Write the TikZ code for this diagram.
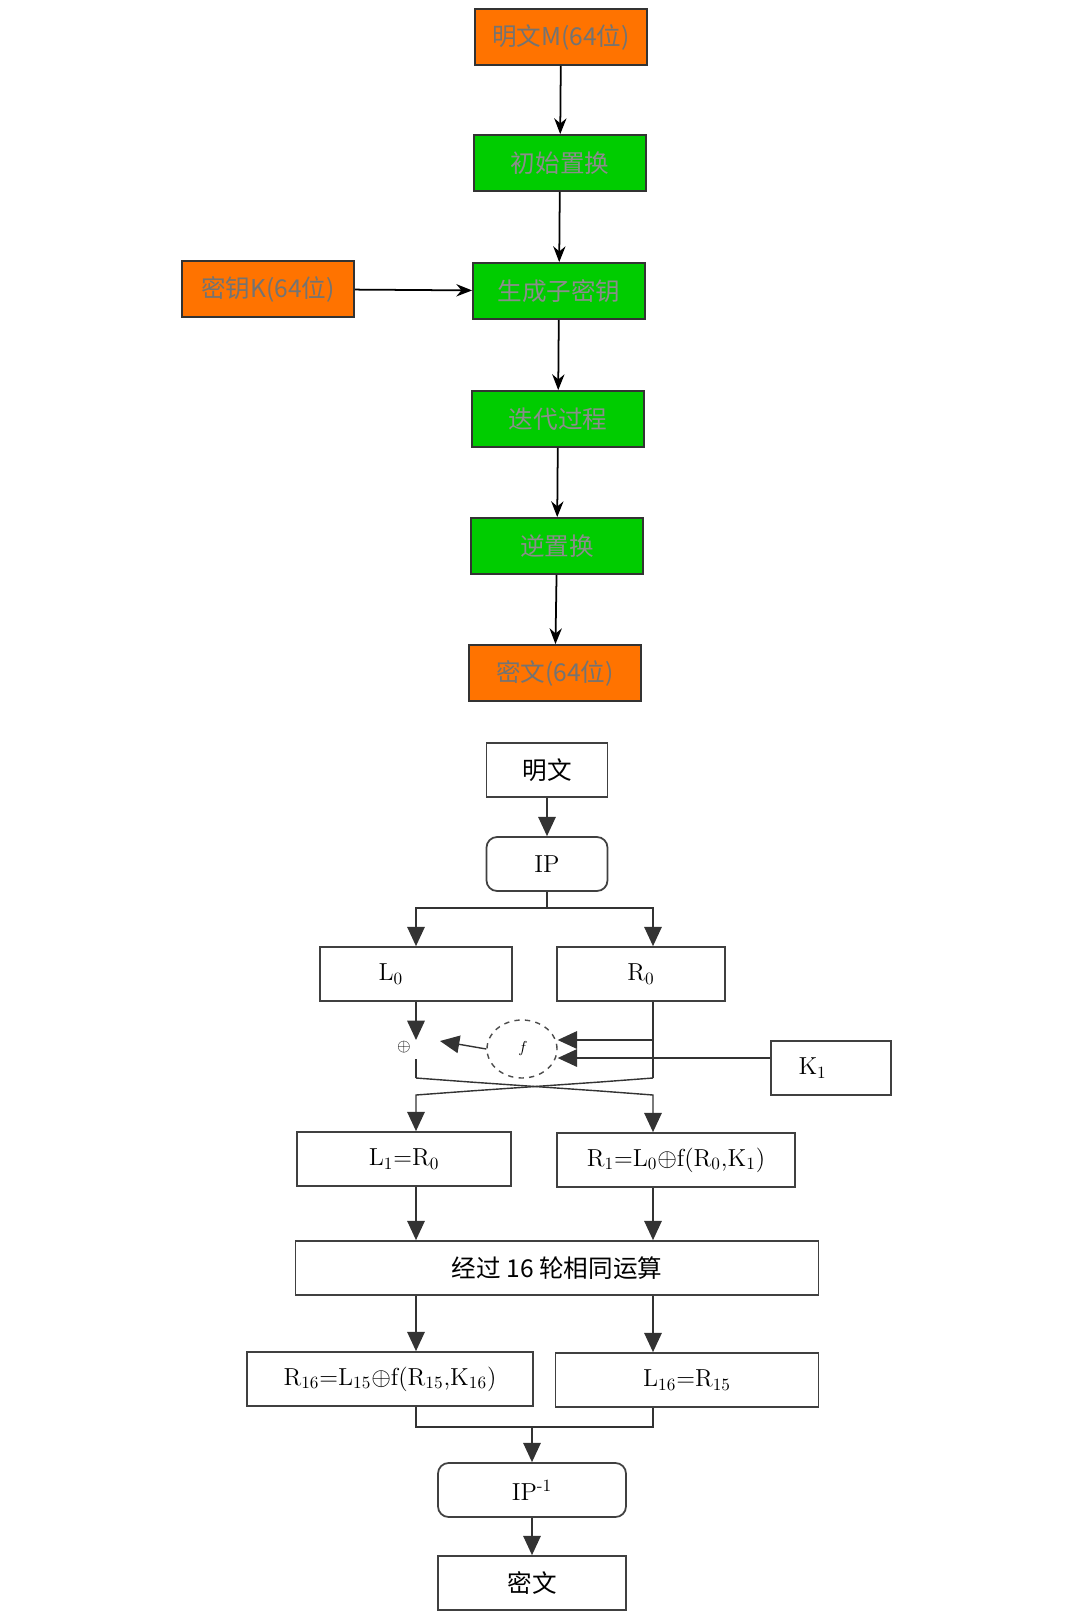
\documentclass[tikz,border=0pt]{standalone}
\usepackage{fontspec}
\newfontfamily\cjk{Noto Sans CJK SC}
\usetikzlibrary{arrows.meta,shapes.geometric}
\tikzset{
  box/.style={draw, line width=1pt, minimum height=1.12cm, inner sep=0pt},
  hot/.style={box, fill=orange!90!red, draw=black!80, minimum width=3.44cm, text=black!55, font=\cjk\fontsize{14}{16}\selectfont},
  stage/.style={box, fill=green!80!black, draw=black!80, minimum width=3.44cm, text=black!45, font=\cjk\fontsize{14}{16}\selectfont},
  plain/.style={box, draw=black!75, fill=white, minimum height=1.08cm, font=\fontsize{14}{16}\selectfont},
  flow/.style={-{Stealth[length=9pt,width=7pt]}, line width=1pt},
  tri/.style={-{Triangle[length=11pt,width=10pt]}, line width=0.8pt, draw=black!80},
  line/.style={line width=0.8pt, draw=black!80}
}
\begin{document}
\begin{tikzpicture}[x=0.02cm, y=-0.02cm]
  \useasboundingbox (0,0) rectangle (1080,1618);
  % upper chart
  \node[hot]   (msg)  at (561,37)  {明文M(64位)};
  \node[stage] (ip0)  at (560,163) {初始置换};
  \node[stage] (sub)  at (559,291) {生成子密钥};
  \node[hot]   (key)  at (268,289) {密钥K(64位)};
  \node[stage] (iter) at (558,419) {迭代过程};
  \node[stage] (inv)  at (557,546) {逆置换};
  \node[hot]   (ct)   at (555,673) {密文(64位)};
  \foreach \a/\b in {msg/ip0, ip0/sub, sub/iter, iter/inv, inv/ct}
    \draw[flow] (\a) -- (\b);
  \draw[flow] (key) -- (sub);

  % lower chart
  \node[plain, minimum width=2.42cm] (pt) at (547,770) {\cjk 明文};
  \node[plain, minimum width=2.42cm, rounded corners=6pt] (ip) at (547,864) {IP};
  \node[plain, minimum width=3.84cm, text width=1.5cm] (l0) at (416,974) {L\textsubscript{0}};
  \node[plain, minimum width=3.36cm] (r0) at (641,974) {R\textsubscript{0}};
  \node[plain, minimum width=2.4cm, text width=1.3cm] (k1) at (831,1068) {K\textsubscript{1}};
  \node[draw=black!70, dashed, ellipse, line width=0.8pt, minimum width=1.4cm, minimum height=1.16cm] (f) at (522,1049) {\small\itshape f};
  \node (xor) at (404,1047) {$\oplus$};
  \coordinate (xin) at (416,1040);
  \node[plain, minimum width=4.28cm] (l1) at (404,1159) {L\textsubscript{1}=R\textsubscript{0}};
  \node[plain, minimum width=4.76cm] (r1) at (676,1160) {R\textsubscript{1}=L\textsubscript{0}$\oplus$f(R\textsubscript{0},K\textsubscript{1})};
  \node[plain, minimum width=10.46cm] (rnd) at (557,1268) {\cjk 经过 16 轮相同运算};
  \node[plain, minimum width=5.72cm] (r16) at (390,1379) {R\textsubscript{16}=L\textsubscript{15}$\oplus$f(R\textsubscript{15},K\textsubscript{16})};
  \node[plain, minimum width=5.26cm] (l16) at (687,1380) {L\textsubscript{16}=R\textsubscript{15}};
  \node[plain, minimum width=3.76cm, rounded corners=6pt] (ipi) at (532,1490) {IP\textsuperscript{-1}};
  \node[plain, minimum width=3.76cm] (out) at (532,1583) {\cjk 密文};

  \draw[tri] (pt) -- (ip);
  \draw[line] (ip.south) -- (547,908) coordinate (sp);
  \draw[tri] (sp) -| (l0.north);
  \draw[tri] (sp) -| (r0.north -| 653,0);
  \draw[tri] (l0.south) -- (xin);
  \draw[tri] (f.west) -- (440,1041);
  \draw[line] (r0.south -| 653,0) -- (653,1078) coordinate (rd);
  \draw[tri] (653,1040) -- (f.east |- 0,1040);
  \draw[tri] (k1.west |- 0,1058) -- (f.east |- 0,1058);
  \draw[line] (xor.south -| 416,0) -- (416,1078) coordinate (ld);
  % crossing of halves
  \draw[tri] (ld) -- (470,1082) -- (600,1091) -- (653,1095) -- (r1.north -| 653,0);
  \draw[tri] (rd) -- (600,1082) -- (470,1091) -- (416,1095) -- (l1.north -| 416,0);
  \draw[tri] (l1.south -| 416,0) -- (rnd.north -| 416,0);
  \draw[tri] (r1.south -| 653,0) -- (rnd.north -| 653,0);
  \draw[tri] (rnd.south -| 416,0) -- (r16.north -| 416,0);
  \draw[tri] (rnd.south -| 653,0) -- (l16.north -| 653,0);
  \draw[line] (r16.south -| 416,0) |- (532,1427) coordinate (jn);
  \draw[line] (l16.south -| 653,0) |- (jn);
  \draw[tri] (jn) -- (ipi);
  \draw[tri] (ipi) -- (out);
\end{tikzpicture}
\end{document}
